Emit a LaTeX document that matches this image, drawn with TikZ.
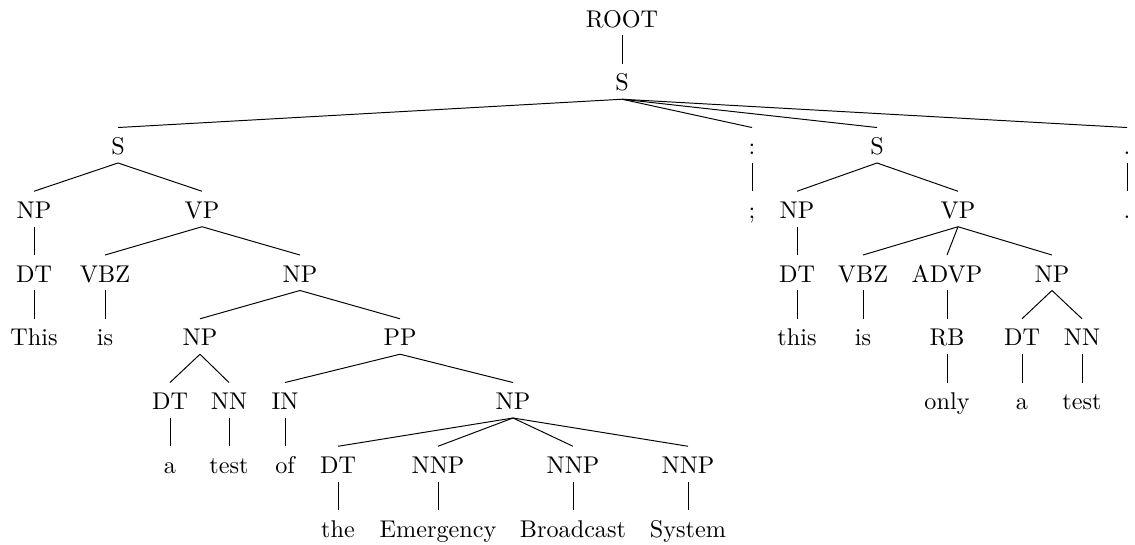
\documentclass[tikz,border=0pt]{standalone}
\begin{document}
\begin{tikzpicture}[x=0.4132pt,y=-0.4132pt,
  tn/.style={anchor=base,text height=10.95pt,text depth=3.3pt,inner ysep=0pt,inner xsep=1pt,font=\fontsize{10}{12}\selectfont},
  edge/.style={line width=0.4pt}]
\useasboundingbox (0,0) rectangle (1135,544);
% level 1-2
\node[tn] (root) at (622,27) {ROOT};
\node[tn] (s) at (622,90.75) {S};
% level 3
\node[tn] (sA) at (118,154.5) {S};
\node[tn] (colon) at (752,154.5) {:};
\node[tn] (sB) at (877,154.5) {S};
\node[tn] (dot) at (1127,154.5) {.};
% level 4
\node[tn] (npA) at (34,218.25) {NP};
\node[tn] (vpA) at (202,218.25) {VP};
\node[tn] (semi) at (752,218.25) {;};
\node[tn] (npB) at (797,218.25) {NP};
\node[tn] (vpB) at (958,218.25) {VP};
\node[tn] (dotleaf) at (1127,218.25) {.};
% level 5
\node[tn] (dtA) at (34,282) {DT};
\node[tn] (vbzA) at (105,282) {VBZ};
\node[tn] (npA2) at (300,282) {NP};
\node[tn] (dtB) at (797,282) {DT};
\node[tn] (vbzB) at (863,282) {VBZ};
\node[tn] (advp) at (947,282) {ADVP};
\node[tn] (npB2) at (1052,282) {NP};
% level 6
\node[tn] (wThis) at (34,345.75) {This};
\node[tn] (wIs) at (105,345.75) {is};
\node[tn] (npA3) at (200,345.75) {NP};
\node[tn] (pp) at (400,345.75) {PP};
\node[tn] (wthis) at (797,345.75) {this};
\node[tn] (wis) at (863,345.75) {is};
\node[tn] (rb) at (947,345.75) {RB};
\node[tn] (dtC) at (1022,345.75) {DT};
\node[tn] (nnC) at (1082,345.75) {NN};
% level 7
\node[tn] (dtD) at (170,409.5) {DT};
\node[tn] (nnD) at (229,409.5) {NN};
\node[tn] (inA) at (285,409.5) {IN};
\node[tn] (npE) at (513,409.5) {NP};
\node[tn] (wonly) at (947,409.5) {only};
\node[tn] (wa2) at (1022,409.5) {a};
\node[tn] (wtest2) at (1082,409.5) {test};
% level 8
\node[tn] (wa) at (170,473.25) {a};
\node[tn] (wtest) at (229,473.25) {test};
\node[tn] (wof) at (285,473.25) {of};
\node[tn] (dtF) at (338,473.25) {DT};
\node[tn] (nnp1) at (438,473.25) {NNP};
\node[tn] (nnp2) at (573,473.25) {NNP};
\node[tn] (nnp3) at (688,473.25) {NNP};
% level 9
\node[tn] (wthe) at (338,537) {the};
\node[tn] (wEm) at (438,537) {Emergency};
\node[tn] (wBr) at (573,537) {Broadcast};
\node[tn] (wSy) at (688,537) {System};
% edges
\foreach \p/\c in {root/s, s/sA, s/colon, s/sB, s/dot,
  sA/npA, sA/vpA, colon/semi, sB/npB, sB/vpB, dot/dotleaf,
  npA/dtA, vpA/vbzA, vpA/npA2, npB/dtB, vpB/vbzB, vpB/advp, vpB/npB2,
  dtA/wThis, vbzA/wIs, npA2/npA3, npA2/pp, dtB/wthis, vbzB/wis, advp/rb, npB2/dtC, npB2/nnC,
  npA3/dtD, npA3/nnD, pp/inA, pp/npE, rb/wonly, dtC/wa2, nnC/wtest2,
  dtD/wa, nnD/wtest, inA/wof, npE/dtF, npE/nnp1, npE/nnp2, npE/nnp3,
  dtF/wthe, nnp1/wEm, nnp2/wBr, nnp3/wSy}
  \draw[edge] (\p.south) -- (\c.north);
\end{tikzpicture}
\end{document}
